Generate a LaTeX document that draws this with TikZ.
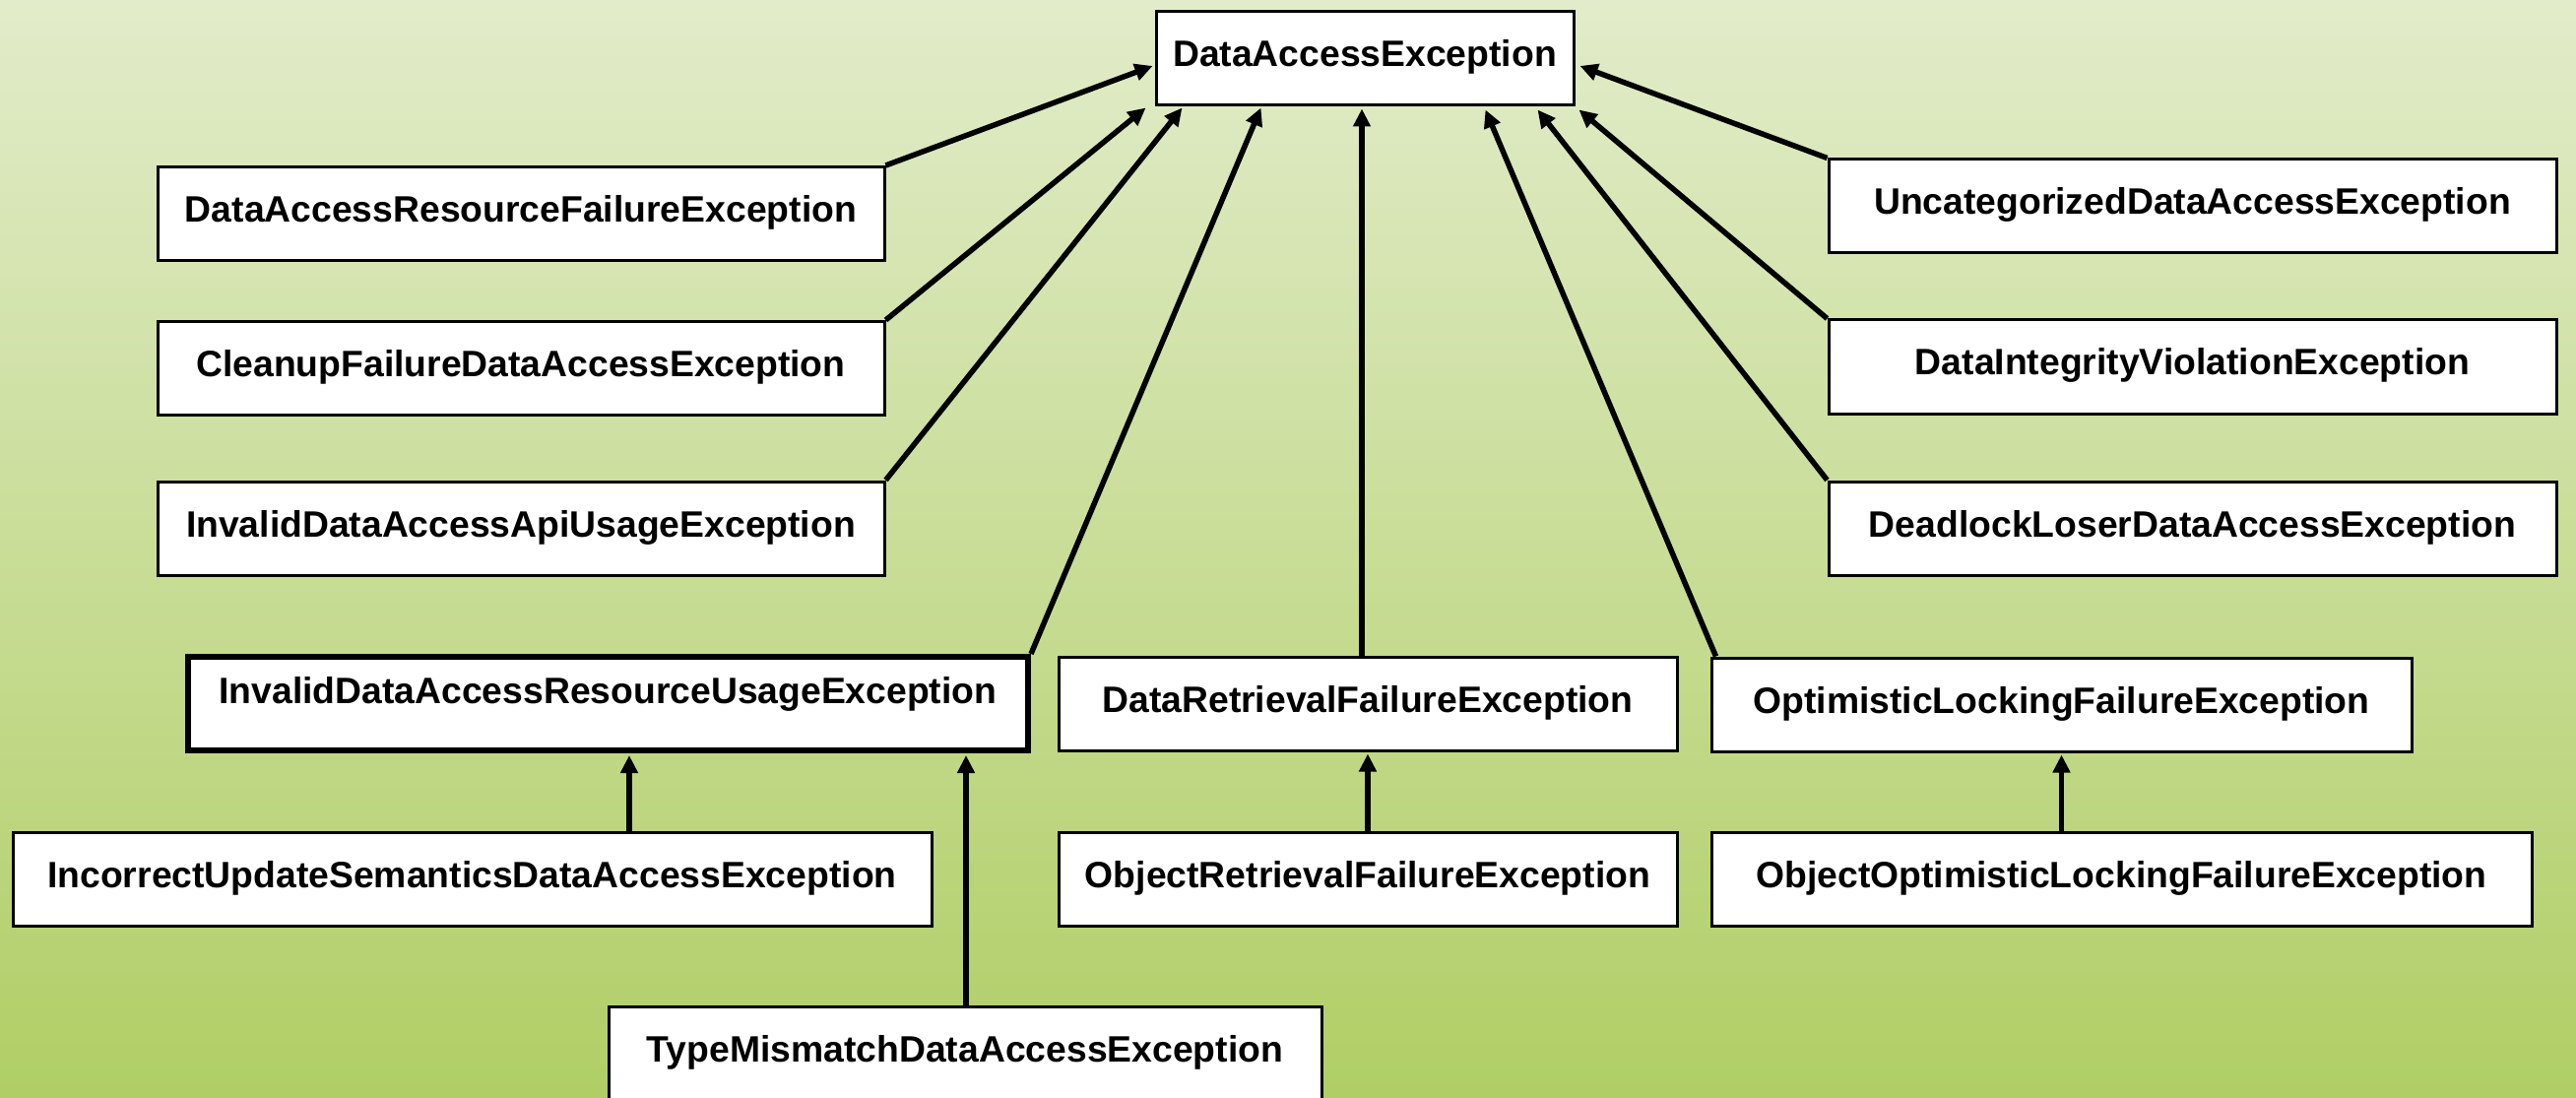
\documentclass[tikz,border=0pt]{standalone}
\usepackage{fontspec}
\setmainfont{Liberation Sans}
\usetikzlibrary{arrows.meta,calc}

\definecolor{bgtop}{HTML}{E2ECCA}
\definecolor{bgbottom}{HTML}{B0CE65}

\begin{document}
\begin{tikzpicture}[x=1pt,y=-1pt,
  cls/.style={draw, fill=white, line width=3pt, inner sep=0pt,
    font=\bfseries\fontsize{37.3}{40}\selectfont,
    text height=56pt, text depth=39pt, minimum height=95pt},
  thickcls/.style={cls, line width=6pt, text height=47pt, text depth=48pt},
  arr/.style={line width=5.5pt, -{Triangle[length=18pt,width=17pt]}}]

% canvas and background gradient
\useasboundingbox (0,0) rectangle (2616,1115);
\shade[top color=bgtop, bottom color=bgbottom] (0,0) rectangle (2616,1115);

% root class
\node[cls, minimum width=424pt] (DAE) at (1386,59.5) {DataAccessException};

% left column
\node[cls, minimum width=738pt] (DARF) at (529,217) {DataAccessResourceFailureException};
\node[cls, minimum width=738pt] (CFD)  at (529,374) {CleanupFailureDataAccessException};
\node[cls, minimum width=738pt] (IAU)  at (529,536.5) {InvalidDataAccessApiUsageException};

% right column
\node[cls, minimum width=739pt] (UDA) at (2226.5,209.5) {UncategorizedDataAccessException};
\node[cls, minimum width=739pt] (DIV) at (2226.5,372.5) {DataIntegrityViolationException};
\node[cls, minimum width=739pt] (DLD) at (2226.5,536.5) {DeadlockLoserDataAccessException};

% middle row
\node[thickcls, minimum width=853pt] (IRU) at (617.5,714.5) {InvalidDataAccessResourceUsageException};
\node[cls, minimum width=628pt] (DRF) at (1389,714.5) {DataRetrievalFailureException};
\node[cls, minimum width=711pt] (OLF) at (2093.5,715.5) {OptimisticLockingFailureException};

% lower rows
\node[cls, minimum width=933pt] (IUS) at (479.5,892.5) {IncorrectUpdateSemanticsDataAccessException};
\node[cls, minimum width=628pt] (ORF) at (1389,892.5) {ObjectRetrievalFailureException};
\node[cls, minimum width=833pt] (OOL) at (2154.5,892.5) {ObjectOptimisticLockingFailureException};
\node[cls, minimum width=724pt] (TMD) at (980,1069.5) {TypeMismatchDataAccessException};

% inheritance arrows to the root
\draw[arr] (DARF.north east) -- ($(DAE.west)+(-2,7.5)$);
\draw[arr] (CFD.north east)  -- ($(DAE.south west)+(-9,1)$);
\draw[arr] (IAU.north east)  -- ($(DAE.south west)+(28,1)$);
\draw[arr] (IRU.north east)  -- ($(DAE.south west)+(108,1)$);
\coordinate (xdrf) at (1383,0);
\draw[arr] (DRF.north -| xdrf) -- ($(DAE.south -| xdrf)+(0,2)$);
\draw[arr] ($(OLF.north west)+(6,0)$) -- ($(DAE.south east)+(-91,3)$);
\draw[arr] (DLD.north west) -- ($(DAE.south east)+(-38,3)$);
\draw[arr] (DIV.north west) -- ($(DAE.south east)+(4,3)$);
\draw[arr] (UDA.north west) -- ($(DAE.east)+(5,7.5)$);

% inheritance arrows between subclasses
\coordinate (xius) at (639,0);
\coordinate (xtmd) at (981,0);
\draw[arr] (IUS.north -| xius) -- ($(IRU.south -| xius)+(0,2)$);
\draw[arr] (TMD.north -| xtmd) -- ($(IRU.south -| xtmd)+(0,2)$);
\draw[arr] (ORF.north) -- ($(DRF.south)+(0,2)$);
\draw[arr] (OOL.north -| OLF.south) -- ($(OLF.south)+(0,2)$);

\end{tikzpicture}
\end{document}
